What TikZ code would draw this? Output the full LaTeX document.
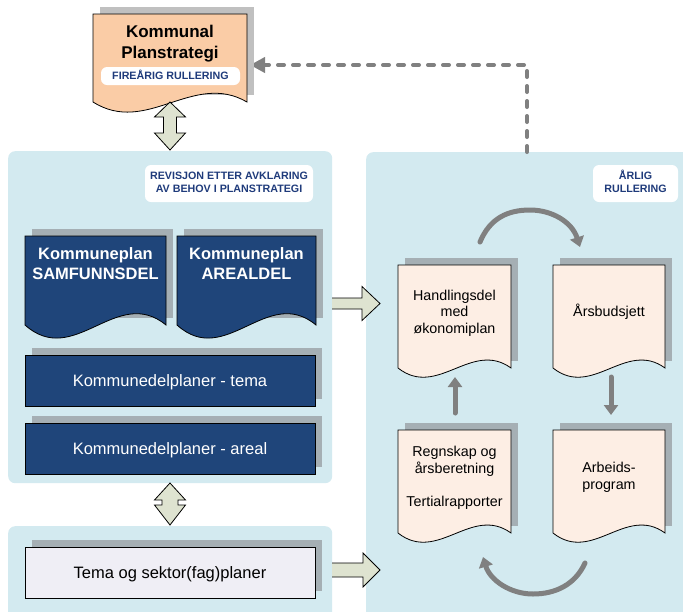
\documentclass[tikz,border=0pt]{standalone}
\usepackage{fontspec}
\setmainfont{Liberation Sans}
\usetikzlibrary{arrows.meta}
\definecolor{panelblue}{RGB}{211,234,240}
\definecolor{navy}{RGB}{31,69,122}
\definecolor{navyshadow}{RGB}{165,175,180}
\definecolor{peach}{RGB}{250,204,166}
\definecolor{lightshadow}{RGB}{192,192,192}
\definecolor{cream}{RGB}{253,238,228}
\definecolor{lavender}{RGB}{239,238,245}
\definecolor{arrowfill}{RGB}{222,227,208}
\definecolor{tagblue}{RGB}{31,59,123}
\definecolor{cyclegray}{RGB}{128,128,128}
% document shape: x0,y0,x1,ybottom,wave,fill,shadow
\newcommand{\docshape}[7]{%
  \fill[#7] ({#1+7},{#2-7}) rectangle ({#3+7},{#4-7});
  \filldraw[fill=#6, draw=black, line width=0.8pt] (#1,#2) -- (#3,#2) -- (#3,#4)
    .. controls ({#1+0.65*(#3-#1)},{#4-0.92*#5}) and ({#1+0.35*(#3-#1)},{#4+#5}) .. (#1,#4) -- cycle;}
% box shape: x0,y0,x1,y1,fill,shadow
\newcommand{\boxshape}[6]{%
  \fill[#6] ({#1+7},{#2-7}) rectangle ({#3+7},{#4-7});
  \filldraw[fill=#5, draw=black, line width=0.8pt] (#1,#2) rectangle (#3,#4);}
% vertical double block arrow: cx, ytip1, ybase1, ybase2, ytip2, halfhead, halfshaft
\newcommand{\dblarrow}[7]{%
  \filldraw[blockarrow] ({#1},{#2}) -- ({#1+#6},{#3}) -- ({#1+#7},{#3}) -- ({#1+#7},{#4}) -- ({#1+#6},{#4}) -- ({#1},{#5}) -- ({#1-#6},{#4}) -- ({#1-#7},{#4}) -- ({#1-#7},{#3}) -- ({#1-#6},{#3}) -- cycle;}
% right block arrow: xstart, ymid, xhead, xtip, halfshaft, halfhead
\newcommand{\rarrow}[6]{%
  \fill[arrowfill] ({#1},{#2-#5}) -- ({#3},{#2-#5}) -- ({#3},{#2-#6}) -- ({#4},{#2}) -- ({#3},{#2+#6}) -- ({#3},{#2+#5}) -- ({#1},{#2+#5}) -- cycle;
  \draw[black, line width=0.8pt] ({#1},{#2-#5}) -- ({#3},{#2-#5}) -- ({#3},{#2-#6}) -- ({#4},{#2}) -- ({#3},{#2+#6}) -- ({#3},{#2+#5}) -- ({#1},{#2+#5});}
\begin{document}
\begin{tikzpicture}[x=1pt,y=-1pt,
  panel/.style={fill=panelblue, draw=none, rounded corners=7pt, inner sep=0pt},
  tagbox/.style={fill=white, draw=none, rounded corners=6pt, inner sep=0pt},
  tagtext/.style={text=tagblue, font=\fontsize{10.7}{13}\selectfont\bfseries, align=center, inner sep=0pt},
  doctitle/.style={text=white, font=\fontsize{16.5}{20}\selectfont\bfseries, align=center, inner sep=0pt},
  boxtext/.style={font=\fontsize{16.5}{20}\selectfont, align=center, inner sep=0pt},
  cyctext/.style={font=\fontsize{14.3}{16.7}\selectfont, align=center, inner sep=0pt},
  blockarrow/.style={fill=arrowfill, draw=black, line width=0.8pt},
  cycarrow/.style={draw=cyclegray, line width=5pt, line cap=round, -{Triangle[length=10pt,width=14pt]}},
  feedback/.style={draw=cyclegray, line width=4pt, line cap=round, dash pattern=on 6pt off 9pt, -{Triangle[length=15pt,width=15pt]}}
]
\fill[white] (0,0) rectangle (683,611);
\useasboundingbox (0,0) rectangle (683,611);

% panels
\node[panel, anchor=north west, minimum width=324pt, minimum height=332pt] (lp1) at (8,151) {};
\node[panel, anchor=north west, minimum width=324pt, minimum height=100pt] (lp2) at (8,526) {};
\node[panel, anchor=north west, minimum width=340pt, minimum height=470pt] (rp) at (366,152) {};

% feedback dashed connector
\coordinate (fbCorner) at (527,65);
\coordinate (fbEnd) at (250,65);
\draw[feedback] (rp.north -| fbCorner) -- (fbCorner) -- (fbEnd);

% Kommunal planstrategi
\docshape{93}{14}{247}{102}{34}{peach}{lightshadow}
\node[font=\fontsize{17}{21}\selectfont\bfseries, align=center, inner sep=0pt] (plantitle) at (170,44) {Kommunal\\Planstrategi};
\node[tagbox, minimum width=139pt, minimum height=18pt] (firetag) at (170.5,76) {};
\node[tagtext] (firetxt) at (170.5,75) {FIREÅRIG RULLERING};

\dblarrow{170}{102}{117}{133}{150}{15.5}{6.5}

% left panel contents
\node[tagbox, minimum width=168pt, minimum height=37pt] (revtag) at (229,183.5) {};
\node[tagtext] (revtxt) at (229,182.5) {REVISJON ETTER AVKLARING\\AV BEHOV I PLANSTRATEGI};

\docshape{25}{236}{166}{325}{44}{navy}{navyshadow}
\docshape{177}{236}{316}{325}{44}{navy}{navyshadow}
\node[doctitle] (samf) at (95.5,264) {Kommuneplan\\SAMFUNNSDEL};
\node[doctitle] (areal) at (246.5,264) {Kommuneplan\\AREALDEL};

\boxshape{25}{355}{315}{406}{navy}{navyshadow}
\node[boxtext, text=white] (kdtema) at (170,382) {Kommunedelplaner - tema};
\boxshape{25}{423}{315}{474}{navy}{navyshadow}
\node[boxtext, text=white] (kdareal) at (170,450) {Kommunedelplaner - areal};

\dblarrow{170}{483}{500}{505}{525}{15.5}{8}

\boxshape{25}{547}{315}{598}{lavender}{navyshadow}
\node[boxtext] (sektor) at (170,574) {Tema og sektor(fag)planer};

% block arrows to right panel
\rarrow{332}{303.5}{362}{380}{5.5}{17}
\rarrow{332}{570}{363}{380}{7}{17}

% right panel contents
\node[tagbox, minimum width=85pt, minimum height=37pt] (arligtag) at (635.5,183.5) {};
\node[tagtext] (arligtxt) at (635.5,181.5) {ÅRLIG\\RULLERING};

\docshape{398}{265}{511}{368}{31}{cream}{navyshadow}
\docshape{553}{265}{665}{368}{31}{cream}{navyshadow}
\docshape{398}{430}{511}{533}{31}{cream}{navyshadow}
\docshape{553}{430}{665}{533}{31}{cream}{navyshadow}

\node[cyctext] (hand) at (454.5,313) {Handlingsdel\\med\\økonomiplan};
\node[cyctext] (budsj) at (609,311.7) {Årsbudsjett};
\node[cyctext] (regn) at (454.5,477.8) {Regnskap og\\årsberetning\\[16.7pt]Tertialrapporter};
\node[cyctext] (arb) at (609,477.3) {Arbeids-\\program};

% cycle connectors
\coordinate (arcL) at (480,242);
\coordinate (arcR) at (580,247);
\draw[cycarrow] (arcL) .. controls (490,218) and (508,210) .. (530,210) .. controls (552,210) and (572,222) .. (arcR);
\coordinate (downS) at (611,377);
\coordinate (downE) at (611,415);
\draw[cycarrow] (downS) -- (downE);
\coordinate (botR) at (585,563);
\coordinate (botL) at (483,557);
\draw[cycarrow] (botR) .. controls (575,585) and (555,594) .. (533,594) .. controls (510,594) and (490,580) .. (botL);
\coordinate (upS) at (455,413);
\coordinate (upE) at (455,377);
\draw[cycarrow] (upS) -- (upE);
\end{tikzpicture}
\end{document}
